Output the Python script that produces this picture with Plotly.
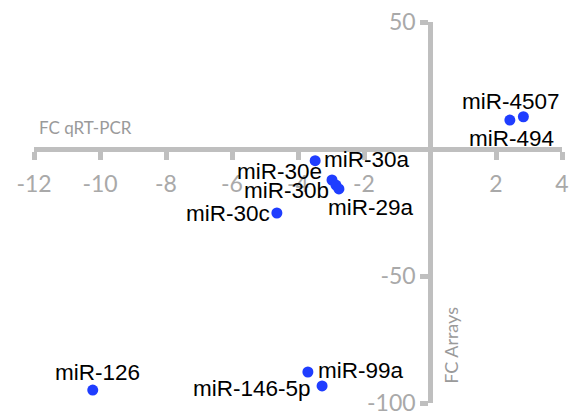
import plotly.graph_objects as go

# Data
labels = ["miR-4507", "miR-494", "miR-30a", "miR-30e", "miR-30b", "miR-29a",
          "miR-30c", "miR-126", "miR-99a", "miR-146-5p"]
fc_qrtpcr = [2.83, 2.42, -3.48, -2.97, -2.85, -2.76, -4.64, -10.22, -3.70, -3.27]
fc_arrays = [12.7, 11.4, -4.6, -12.2, -14.2, -15.7, -25.2, -94.9, -87.8, -93.3]

x_ticks = [-12, -10, -8, -6, -4, -2, 2, 4]
y_ticks = [50, -50, -100]
x_range = [-12, 4]
y_range = [-100, 50]

# label placement (anchor, x shift px, y shift px)
label_anchor = ["center", "center", "left", "right", "right", "left", "right", "center", "left", "right"]
label_dx = [-12, 2, 7, -8, -5, -13, -5, 5, 8, -9]
label_dy = [15, -18, 1, 8, -5, -19, 0, 18, 2, -3]

AXIS = "#bfbfbf"
TICKFONT = dict(family="Lato", size=23, color="#a9a9a9")
LABELFONT = dict(family="Liberation Sans", size=22.5, color="#000000")

fig = go.Figure()
fig.add_trace(go.Scatter(
    x=fc_qrtpcr, y=fc_arrays, mode="markers",
    marker=dict(size=11, color="#1f3dff"),
    cliponaxis=False, hoverinfo="skip", showlegend=False,
))

annotations = []
for lab, xv, yv, anc, dx, dy in zip(labels, fc_qrtpcr, fc_arrays, label_anchor, label_dx, label_dy):
    annotations.append(dict(text=lab, x=xv, y=yv, xref="x", yref="y",
                            xanchor=anc, yanchor="middle", xshift=dx, yshift=dy,
                            showarrow=False, font=LABELFONT))

annotations += [
    dict(text="FC qRT-PCR", x=-12, y=8.3, xref="x", yref="y", xanchor="left",
         yanchor="middle", showarrow=False, xshift=3,
         font=dict(family="Lato", size=17, color="#9a9a9a")),
    dict(text="FC Arrays", x=0, y=-77.5, xref="x", yref="y", xanchor="center",
         yanchor="middle", showarrow=False, textangle=-90, xshift=21,
         font=dict(family="Lato", size=18, color="#9a9a9a")),
]

x_pos = (0 - y_range[0]) / (y_range[1] - y_range[0])
y_pos = (0 - x_range[0]) / (x_range[1] - x_range[0])

fig.update_layout(
    width=570, height=418,
    margin=dict(l=34, r=8, t=22, b=15),
    plot_bgcolor="white", paper_bgcolor="white",
    xaxis=dict(range=x_range, tickvals=x_ticks, ticktext=[str(v) for v in x_ticks],
               anchor="free", position=x_pos, side="bottom",
               showline=True, linecolor=AXIS, linewidth=4.5,
               ticks="outside", ticklen=8, tickwidth=4.5, tickcolor=AXIS,
               tickfont=TICKFONT, ticklabelstandoff=5,
               showgrid=False, zeroline=False, automargin=False),
    yaxis=dict(range=y_range, tickvals=y_ticks, ticktext=[str(v) for v in y_ticks],
               anchor="free", position=y_pos, side="left",
               showline=True, linecolor=AXIS, linewidth=4.5,
               ticks="outside", ticklen=8, tickwidth=4.5, tickcolor=AXIS,
               tickfont=TICKFONT, ticklabelstandoff=0,
               showgrid=False, zeroline=False, automargin=False),
    annotations=annotations,
)

fig.write_html("out.html", config={"displayModeBar": False},
               post_script="document.body.style.margin='0';")
